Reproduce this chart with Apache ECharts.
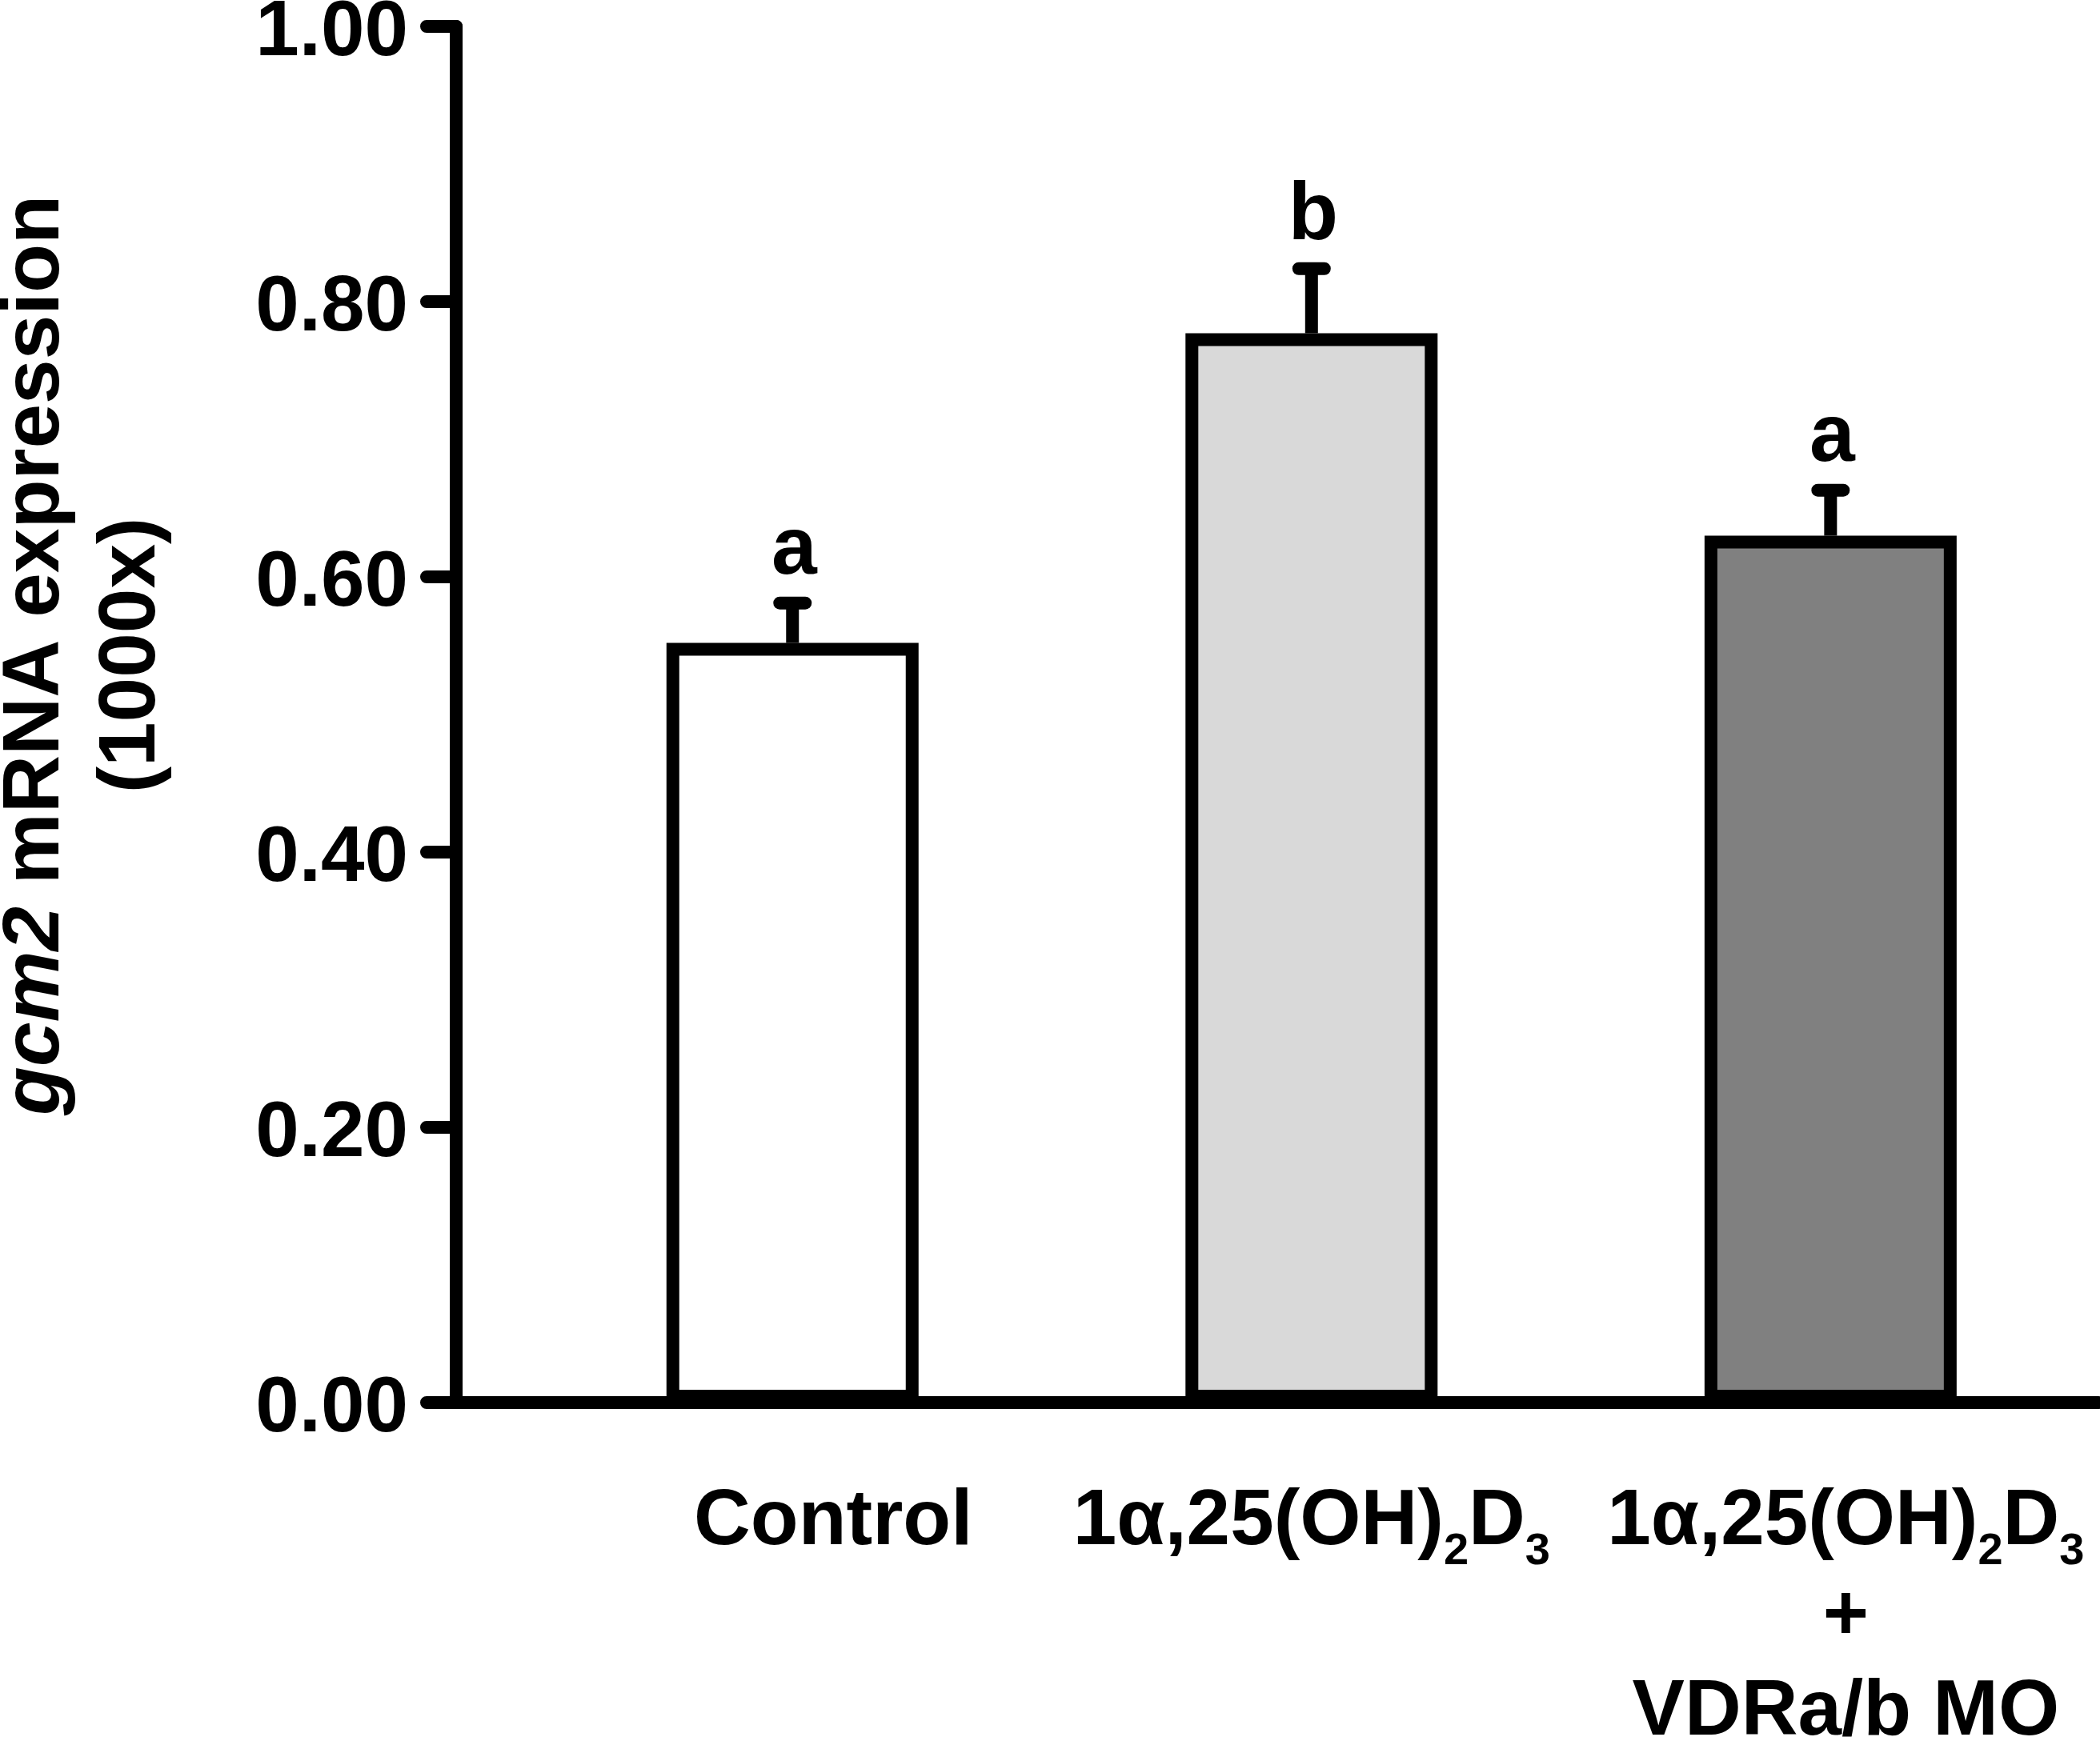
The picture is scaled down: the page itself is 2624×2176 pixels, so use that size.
<!DOCTYPE html>
<html>
<head>
<meta charset="utf-8">
<script src="https://cdn.jsdelivr.net/npm/echarts@6/dist/echarts.min.js"></script>
<style>
  html, body { margin: 0; padding: 0; background: #fff; }
  #chart { width: 2624px; height: 2176px; }
</style>
</head>
<body>
<div id="chart"></div>
<script>
// ---- data ----
var groups = ['Control', '1α,25(OH)2D3', '1α,25(OH)2D3 + VDRa/b MO'];
var means = [0.552, 0.777, 0.630];
var errTops = [0.581, 0.824, 0.663];
var letters = ['a', 'b', 'a'];
var barColors = ['#ffffff', '#d9d9d9', '#808080'];

var FONT = '"Liberation Sans", Arial, sans-serif';

/*---------- 构造数据 ----------*/
var barData = [];
var errData = [];
for (var i = 0; i < groups.length; i++) {
	barData.push({
		value: [i, means[i]],
		itemStyle: { color: barColors[i] }
	});
	errData.push([i, means[i], errTops[i]]);
}
/*----------------------------------*/

var myChart = echarts.init(document.getElementById('chart'));
myChart.setOption({
	animation: false,
	backgroundColor: '#ffffff',
	grid: {
		left: 570,
		right: 2,
		top: 33,
		bottom: 423,
		containLabel: false,
		outerBoundsMode: 'none'
	},
	xAxis: {
		type: 'value',
		min: -0.648,
		max: 2.516,
		axisLine: {
			show: true,
			onZero: false,
			lineStyle: { color: '#000', width: 16 }
		},
		axisTick: { show: false },
		splitLine: { show: false },
		axisLabel: {
			show: true,
			customValues: [0, 1, 2],
			margin: 90,
			color: '#000',
			fontSize: 98,
			fontWeight: 'bold',
			fontFamily: FONT,
			lineHeight: 119,
			formatter: function(v) {
				var idx = Math.round(v);
				if (idx === 0) {
					return '{c0|' + groups[0] + '}';
				}
				if (idx === 1) {
					return '{m|1α,25(OH)}{s|2}{m|D}{s|3}';
				}
				return '{m3|1α,25(OH)}{s|2}{m|D}{s|3}\n{m3|+}\n{m3|VDRa/b MO}';
			},
			rich: {
				c0: { fontSize: 98, fontWeight: 'bold', fontFamily: FONT, lineHeight: 119, padding: [0, 0, 0, 102] },
				m: { fontSize: 98, fontWeight: 'bold', fontFamily: FONT, lineHeight: 119 },
				m3: { fontSize: 98, fontWeight: 'bold', fontFamily: FONT, lineHeight: 119, padding: [0, 0, 0, 38] },
				s: { fontSize: 56, fontWeight: 'bold', fontFamily: FONT, height: 45, lineHeight: 45, verticalAlign: 'bottom' }
			}
		}
	},
	yAxis: {
		type: 'value',
		min: 0,
		max: 1,
		interval: 0.2,
		name: '{i|gcm2} mRNA expression\n(1000x)',
		nameLocation: 'middle',
		nameRotate: 90,
		nameGap: 345,
		nameTextStyle: {
			color: '#000',
			fontSize: 100,
			fontWeight: 'bold',
			fontFamily: FONT,
			lineHeight: 120,
			padding: [0, 0, 0, 148],
			rich: {
				i: { fontSize: 100, fontWeight: 'bold', fontStyle: 'italic', fontFamily: FONT, lineHeight: 120 }
			}
		},
		axisLine: {
			show: true,
			onZero: false,
			lineStyle: { color: '#000', width: 16 }
		},
		axisTick: {
			show: true,
			length: 37,
			lineStyle: { color: '#000', width: 16, cap: 'round' }
		},
		splitLine: { show: false },
		axisLabel: {
			margin: 60,
			color: '#000',
			fontSize: 98,
			fontWeight: 'bold',
			fontFamily: FONT,
			lineHeight: 116,
			formatter: function(v) {
				return '{v|' + v.toFixed(2) + '}';
			},
			rich: {
				// 数字略低于刻度线
				v: { fontSize: 98, fontWeight: 'bold', fontFamily: FONT, lineHeight: 116, verticalAlign: 'bottom' }
			}
		}
	},
	series: [
		{
			type: 'bar',
			data: barData,
			barWidth: 315,
			itemStyle: {
				borderColor: '#000',
				borderWidth: 16
			},
			z: 2
		},
		{
			type: 'custom',
			data: errData,
			z: 3,
			renderItem: function(params, api) {
				var x = api.value(0);
				var p0 = api.coord([x, api.value(1)]);
				var p1 = api.coord([x, api.value(2)]);
				var letter = letters[params.dataIndex];
				return {
					type: 'group',
					children: [
						{
							type: 'line',
							shape: { x1: p0[0], y1: p0[1], x2: p1[0], y2: p1[1] },
							style: { stroke: '#000', lineWidth: 16 }
						},
						{
							type: 'line',
							shape: { x1: p1[0] - 16, y1: p1[1], x2: p1[0] + 16, y2: p1[1] },
							style: { stroke: '#000', lineWidth: 16, lineCap: 'round' }
						},
						{
							type: 'text',
							style: {
								text: letter,
								x: p1[0] + 2,
								y: p1[1] - 14,
								fill: '#000',
								fontSize: 102,
								fontWeight: 'bold',
								fontFamily: FONT,
								align: 'center',
								verticalAlign: 'bottom'
							}
						}
					]
				};
			}
		}
	]
});
</script>
</body>
</html>
